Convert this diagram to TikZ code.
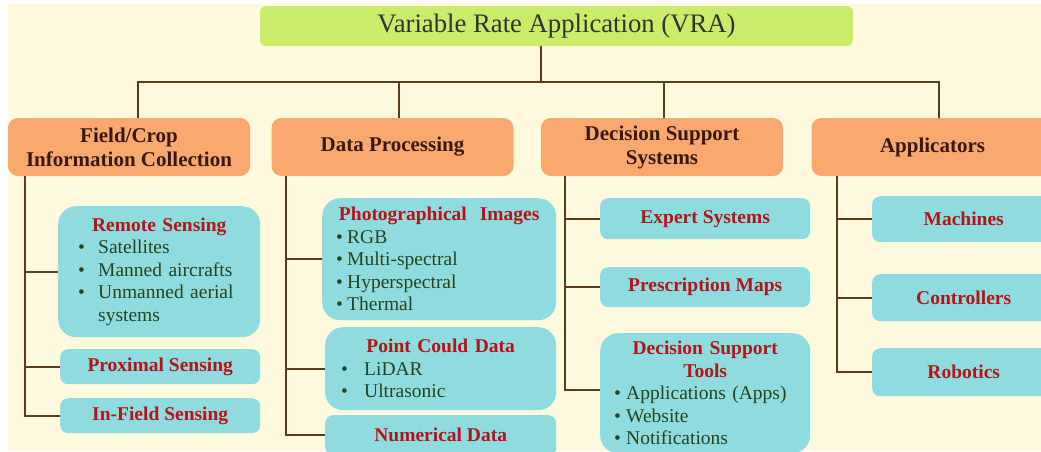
\documentclass[tikz,border=0pt]{standalone}
\usepackage{fontspec}
\setmainfont{Liberation Serif}

\definecolor{bgcream}{RGB}{255,249,221}
\definecolor{titlegreen}{RGB}{202,236,104}
\definecolor{headorange}{RGB}{250,168,112}
\definecolor{subcyan}{RGB}{142,220,224}
\definecolor{headtxt}{RGB}{58,26,14}
\definecolor{subred}{RGB}{178,20,24}
\definecolor{itemtxt}{RGB}{40,68,30}
\definecolor{linebrown}{RGB}{92,60,28}

\tikzset{
  title/.style={fill=titlegreen, rounded corners=6, minimum width=593, minimum height=40,
    font=\fontsize{26.7}{30}\selectfont, text=black!80},
  head/.style={fill=headorange, rounded corners=10, minimum width=242, minimum height=58,
    align=center, font=\bfseries\fontsize{21}{24}\selectfont, text=headtxt},
  sub/.style={fill=subcyan, rounded corners=8, anchor=north west,
    font=\bfseries\fontsize{19.5}{22}\selectfont, text=subred},
  subbig/.style={fill=subcyan, rounded corners=18, anchor=north west, align=left,
    font=\fontsize{19.5}{22.5}\selectfont, text=itemtxt},
  link/.style={draw=linebrown, line width=2pt},
}

\newcommand{\hd}[1]{\makebox[\hsize][c]{\bfseries\color{subred}#1}}
\newcommand{\itm}[2][20pt]{\makebox[#1][l]{\textbullet}#2}

\begin{document}
\begin{tikzpicture}[x=1pt,y=-1pt]
  \useasboundingbox (0,0) rectangle (1041,451);

  % background
  \fill[bgcream] (8,4) rectangle (1041,451);

  % root
  \node[title] (vra) at (556.5,26) {Variable Rate Application (VRA)};
  \coordinate (bus) at (541,82);

  % main branches
  \node[head] (fc)  at (129,147)   {Field/Crop\\Information Collection};
  \node[head] (dp)  at (392.5,147) {Data Processing};
  \node[head] (dss) at (662,147)   {Decision Support\\Systems};
  \node[head] (app) at (932.5,147) {Applicators};

  \draw[link] (vra.south -| bus) -- (bus);
  \draw[link] ([xshift=9]fc.north) |- (bus) -| ([xshift=6.5]app.north);
  \draw[link] ([xshift=6.5]dp.north) -- ++(0,-36);
  \draw[link] ([xshift=2]dss.north) -- ++(0,-36);

  % field / crop information
  \node[subbig, inner xsep=20, text width=162, minimum height=131] (rs) at (58,206)
    {\hd{Remote Sensing}\\ \itm{Satellites}\\ \itm{Manned aircrafts}\\
     \itm{Unmanned aerial}\\ \hspace*{20pt}systems};
  \node[sub, minimum width=200, minimum height=35] (px) at (60,349) {Proximal Sensing};
  \node[sub, minimum width=200, minimum height=35] (inf) at (60,398) {In-Field Sensing};

  \draw[link] ([xshift=17]fc.south west) |- (rs.west);
  \draw[link] ([xshift=17]fc.south west) |- (px.west);
  \draw[link] ([xshift=17]fc.south west) |- (inf.west);

  % data processing
  \node[subbig, inner xsep=14, text width=206, minimum height=122] (pi) at (322,198)
    {\hd{Photographical\ \ Images}\\ \itm[11pt]{RGB}\\ \itm[11pt]{Multi-spectral}\\
     \itm[11pt]{Hyperspectral}\\ \itm[11pt]{Thermal}};
  \node[subbig, inner xsep=16, text width=199, minimum height=83] (pc) at (325,327)
    {\hd{Point Could Data}\\ \itm[23pt]{LiDAR}\\ \itm[23pt]{Ultrasonic}};
  \node[sub, minimum width=231, minimum height=40] (num) at (325,415) {Numerical Data};

  \draw[link] ([xshift=15]dp.south west) |- (pi.west);
  \draw[link] ([xshift=15]dp.south west) |- (pc.west);
  \draw[link] ([xshift=15]dp.south west) |- (num.west);

  % decision support systems
  \node[sub, minimum width=210, minimum height=41] (es) at (600,198) {Expert Systems};
  \node[sub, minimum width=210, minimum height=40] (pm) at (600,267) {Prescription Maps};
  \node[subbig, inner xsep=14, text width=182, minimum height=120] (dst) at (600,333)
    {\hd{Decision Support}\\ \hd{Tools}\\ \itm[12pt]{Applications (Apps)}\\
     \itm[12pt]{Website}\\ \itm[12pt]{Notifications}};

  \draw[link] ([xshift=24]dss.south west) |- (es.west);
  \draw[link] ([xshift=24]dss.south west) |- (pm.west);
  \draw[link] ([xshift=24]dss.south west) |- ([yshift=3]dst.west);

  % applicators
  \node[sub, minimum width=183, minimum height=46] (mac) at (872,196) {Machines};
  \node[sub, minimum width=183, minimum height=47] (ctl) at (872,274) {Controllers};
  \node[sub, minimum width=183, minimum height=48] (rob) at (872,348) {Robotics};

  \draw[link] ([xshift=25.5]app.south west) |- (mac.west);
  \draw[link] ([xshift=25.5]app.south west) |- (ctl.west);
  \draw[link] ([xshift=25.5]app.south west) |- (rob.west);
\end{tikzpicture}
\end{document}
